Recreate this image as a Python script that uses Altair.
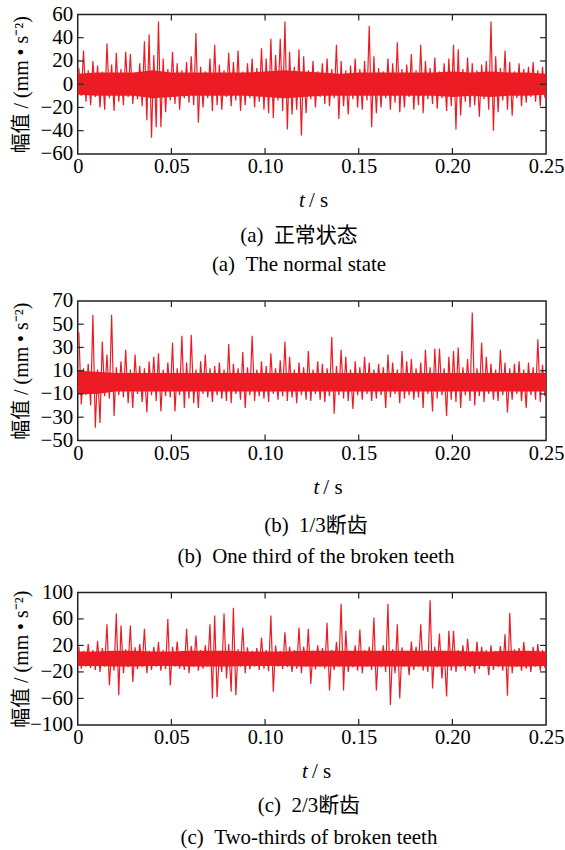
import altair as alt
import pandas as pd

RED = "#ec1c24"
SERIF = "Liberation Serif, Noto Sans CJK SC"

# time bins of 0.0025 s; per bin the upper and lower excursion of the signal (mm/s^2)
p1_hi = [14, 29, 12, 20, 16, 11, 35, 17, 27, 13, 28, 26, 10, 18, 37, 43, 25, 54, 22, 13,
         28, 18, 12, 19, 24, 44, 15, 11, 22, 34, 17, 12, 27, 19, 29, 11, 18, 22, 14, 31,
         22, 39, 25, 39, 54, 28, 15, 30, 24, 12, 20, 11, 18, 22, 13, 34, 20, 12, 16, 22,
         13, 20, 50, 24, 14, 11, 22, 18, 36, 13, 17, 26, 12, 34, 20, 14, 23, 11, 18, 22,
         34, 30, 13, 23, 18, 12, 17, 20, 54, 24, 14, 29, 19, 11, 18, 13, 15, 19, 12, 15]
p1_lo = [-10, -15, -18, -11, -20, -22, -12, -23, -15, -18, -11, -17, -13, -19, -31, -46, -37, -37, -24, -14,
         -17, -22, -12, -16, -18, -33, -20, -12, -23, -18, -22, -11, -19, -14, -23, -18, -12, -20, -15, -22,
         -25, -29, -14, -23, -39, -26, -22, -44, -25, -13, -20, -11, -17, -19, -12, -30, -19, -26, -13, -20,
         -22, -14, -37, -25, -20, -12, -22, -16, -24, -20, -11, -22, -18, -25, -13, -17, -21, -12, -23, -19,
         -39, -27, -15, -20, -18, -28, -13, -22, -40, -24, -14, -22, -27, -12, -19, -16, -11, -15, -19, -12]

p2_hi = [43, 12, 16, 58, 11, 35, 24, 58, 13, 18, 28, 11, 24, 14, 12, 18, 22, 25, 11, 17,
         34, 12, 40, 17, 41, 11, 18, 24, 12, 14, 17, 11, 33, 16, 12, 26, 13, 40, 11, 18,
         14, 25, 12, 19, 35, 22, 11, 17, 13, 27, 11, 18, 16, 12, 39, 14, 28, 22, 11, 18,
         13, 22, 17, 11, 16, 13, 24, 17, 11, 27, 18, 20, 12, 17, 28, 13, 29, 29, 12, 22,
         27, 30, 13, 20, 60, 12, 34, 22, 16, 11, 28, 17, 12, 16, 18, 11, 17, 13, 37, 15]
p2_lo = [-19, -11, -20, -39, -35, -12, -14, -29, -11, -13, -18, -22, -10, -17, -26, -11, -16, -25, -12, -13,
         -25, -11, -22, -14, -18, -22, -10, -13, -17, -11, -14, -16, -18, -10, -15, -22, -11, -16, -12, -14,
         -17, -10, -15, -12, -16, -13, -18, -11, -15, -16, -10, -15, -17, -12, -27, -11, -14, -16, -23, -11,
         -15, -10, -16, -14, -11, -22, -13, -10, -18, -14, -11, -15, -13, -22, -10, -25, -14, -11, -29, -15,
         -17, -22, -11, -16, -20, -12, -17, -10, -15, -16, -11, -26, -15, -10, -16, -22, -11, -15, -17, -12]

p3_hi = [18, 12, 22, 13, 27, 16, 52, 12, 68, 50, 14, 50, 17, 22, 45, 12, 18, 25, 13, 60,
         18, 26, 12, 45, 19, 35, 13, 20, 52, 65, 12, 68, 22, 77, 14, 47, 17, 12, 16, 32,
         13, 65, 20, 12, 40, 18, 13, 47, 18, 45, 12, 20, 16, 54, 13, 25, 83, 42, 12, 20,
         44, 13, 18, 62, 12, 20, 83, 14, 52, 17, 12, 26, 18, 52, 13, 88, 18, 38, 12, 42,
         42, 13, 20, 30, 12, 26, 18, 13, 20, 12, 19, 37, 69, 14, 16, 25, 12, 18, 22, 13]
p3_lo = [-15, -12, -14, -17, -20, -12, -40, -18, -55, -22, -13, -35, -16, -12, -22, -17, -12, -18, -16, -40,
         -12, -15, -17, -22, -12, -18, -15, -12, -60, -58, -20, -30, -50, -55, -12, -22, -16, -12, -17, -15,
         -19, -50, -12, -16, -13, -20, -15, -22, -12, -38, -16, -12, -15, -48, -17, -12, -48, -20, -13, -18,
         -22, -12, -17, -48, -13, -20, -70, -22, -60, -12, -25, -17, -12, -18, -20, -45, -13, -30, -57, -18,
         -20, -12, -18, -13, -22, -16, -12, -25, -17, -13, -18, -56, -22, -12, -18, -15, -20, -12, -18, -14]

# dense solid core of the signal, every 0.01 s
core_t = [0.00, 0.01, 0.02, 0.03, 0.04, 0.05, 0.06, 0.07, 0.08, 0.09, 0.10, 0.11, 0.12,
          0.13, 0.14, 0.15, 0.16, 0.17, 0.18, 0.19, 0.20, 0.21, 0.22, 0.23, 0.24, 0.25]
p1_core_hi = [9, 10, 10, 10, 12, 10, 10, 10, 10, 10, 11, 12, 11, 10, 9, 10, 10, 10, 10, 10, 11, 10, 11, 10, 10, 9]
p1_core_lo = [-9, -10, -10, -10, -12, -11, -10, -10, -10, -10, -11, -12, -11, -10, -10, -10, -10, -10,
              -10, -10, -11, -10, -11, -10, -10, -9]
p2_core_hi = [10, 9, 8, 8, 8, 8, 8, 8, 8, 8, 8, 8, 8, 8, 8, 8, 8, 8, 8, 8, 8, 8, 8, 8, 8, 8]
p2_core_lo = [-10, -10, -8, -8, -8, -8, -8, -8, -8, -8, -8, -8, -8, -8, -8, -8, -8, -8, -8, -8, -8, -8,
              -8, -8, -8, -8]
p3_core_hi = [11, 11, 12, 12, 11, 11, 12, 12, 12, 11, 11, 11, 12, 12, 12, 12, 12, 12, 12, 12, 12, 11, 11, 12, 12, 11]
p3_core_lo = [-11, -11, -12, -12, -11, -11, -12, -12, -12, -11, -11, -11, -12, -12, -12, -12, -12, -12,
              -12, -12, -12, -11, -11, -12, -12, -11]

x_ticks = [0, 0.05, 0.10, 0.15, 0.20, 0.25]
x_inner_ticks = [0.05, 0.10, 0.15, 0.20]
y1_ticks = [-60, -40, -20, 0, 20, 40, 60]
y2_ticks = [-50, -30, -10, 10, 30, 50, 70]
y3_ticks = [-100, -60, -20, 20, 60, 100]

W = 470
FS = 21
YTITLE = "幅值 / (mm • s⁻²)"


def series(hi, lo):
    rows = []
    for i, (h, l) in enumerate(zip(hi, lo)):
        rows.append({"t": i * 0.0025 + 0.0006, "v": h})
        rows.append({"t": i * 0.0025 + 0.0019, "v": l})
    return pd.DataFrame(rows)


def text(label, x, y, italic=False, align="center"):
    return alt.Chart(pd.DataFrame({"a": [0]})).mark_text(
        text=label, font=SERIF, fontSize=FS, align=align, baseline="middle",
        fontStyle="italic" if italic else "normal", color="black"
    ).encode(x=alt.value(x), y=alt.value(y))


def panel(hi, lo, chi, clo, ydom, yvals, H, cap1, cap2, cap_x, t_x, xl_y, c1_y, c2_y):
    df = series(hi, lo)
    core = pd.DataFrame({"t": core_t, "v": chi, "v2": clo})
    xs = alt.Scale(domain=[0, 0.25], nice=False, zero=False)
    ys = alt.Scale(domain=ydom, nice=False, zero=False)
    xax = alt.Axis(
        values=x_ticks, title=None, ticks=False, domain=False, grid=False,
        labelExpr="datum.value == 0 ? '0' : format(datum.value, '.2f')",
        labelPadding=3, labelFlush=False, labelOverlap=False,
        labelFont=SERIF, labelFontSize=20.5, labelColor="black")
    yax = alt.Axis(
        values=yvals, title=YTITLE, ticks=False, domain=False, grid=False,
        labelPadding=5, labelOverlap=False, labelFont=SERIF, labelFontSize=FS,
        labelColor="black", titleFont=SERIF, titleFontSize=20, titleFontWeight="normal",
        titleColor="black", titleX=-56, titleY=H / 2, titleAngle=270,
        titleBaseline="middle", titleAlign="center")
    X = alt.X("t:Q", scale=xs, axis=xax)
    Y = alt.Y("v:Q", scale=ys, axis=yax)
    area = alt.Chart(core).mark_area(color=RED, opacity=1).encode(x=X, y=Y, y2="v2:Q")
    line = alt.Chart(df).mark_line(color=RED, strokeWidth=1.2).encode(x=X, y=Y)
    xt = pd.DataFrame({"t": x_inner_ticks})
    yt = pd.DataFrame({"v": [v for v in yvals if ydom[0] < v < ydom[1]]})
    bt = alt.Chart(xt).mark_rule(color="#222", strokeWidth=1.2).encode(
        x=X, y=alt.value(H), y2=alt.value(H - 6))
    tt = alt.Chart(xt).mark_rule(color="#222", strokeWidth=1.2).encode(
        x=X, y=alt.value(0), y2=alt.value(6))
    lt = alt.Chart(yt).mark_rule(color="#222", strokeWidth=1.2).encode(
        y=Y, x=alt.value(0), x2=alt.value(6))
    rt = alt.Chart(yt).mark_rule(color="#222", strokeWidth=1.2).encode(
        y=Y, x=alt.value(W - 6), x2=alt.value(W))
    texts = [
        text("t", t_x, xl_y, italic=True),
        text("/ s", t_x + 7, xl_y, align="left"),
        text(cap1, cap_x, c1_y),
        text(cap2, cap_x, c2_y),
    ]
    return alt.layer(area, line, bt, tt, lt, rt, *texts).properties(width=W, height=H)


c1 = panel(p1_hi, p1_lo, p1_core_hi, p1_core_lo, [-60, 60], y1_ticks, 140,
           "(a) \u00a0正常状态", "(a) \u00a0The normal state", 222, 225, 187.5, 222.5, 251.5)
c2 = panel(p2_hi, p2_lo, p2_core_hi, p2_core_lo, [-50, 70], y2_ticks, 140,
           "(b) \u00a01/3断齿", "(b) \u00a0One third of the broken teeth", 239, 239.5, 188, 226, 257)
c3 = panel(p3_hi, p3_lo, p3_core_hi, p3_core_lo, [-100, 100], y3_ticks, 133,
           "(c) \u00a02/3断齿", "(c) \u00a0Two-thirds of broken teeth", 232, 228, 180, 214, 246)

chart = alt.vconcat(c1, c2, c3, spacing=12.5).properties(
    padding={"left": 11, "top": 1, "right": 0, "bottom": 0}
).configure_view(stroke="#222", strokeWidth=1.5)

chart.save("out.html", embed_options={"renderer": "svg", "actions": False})
